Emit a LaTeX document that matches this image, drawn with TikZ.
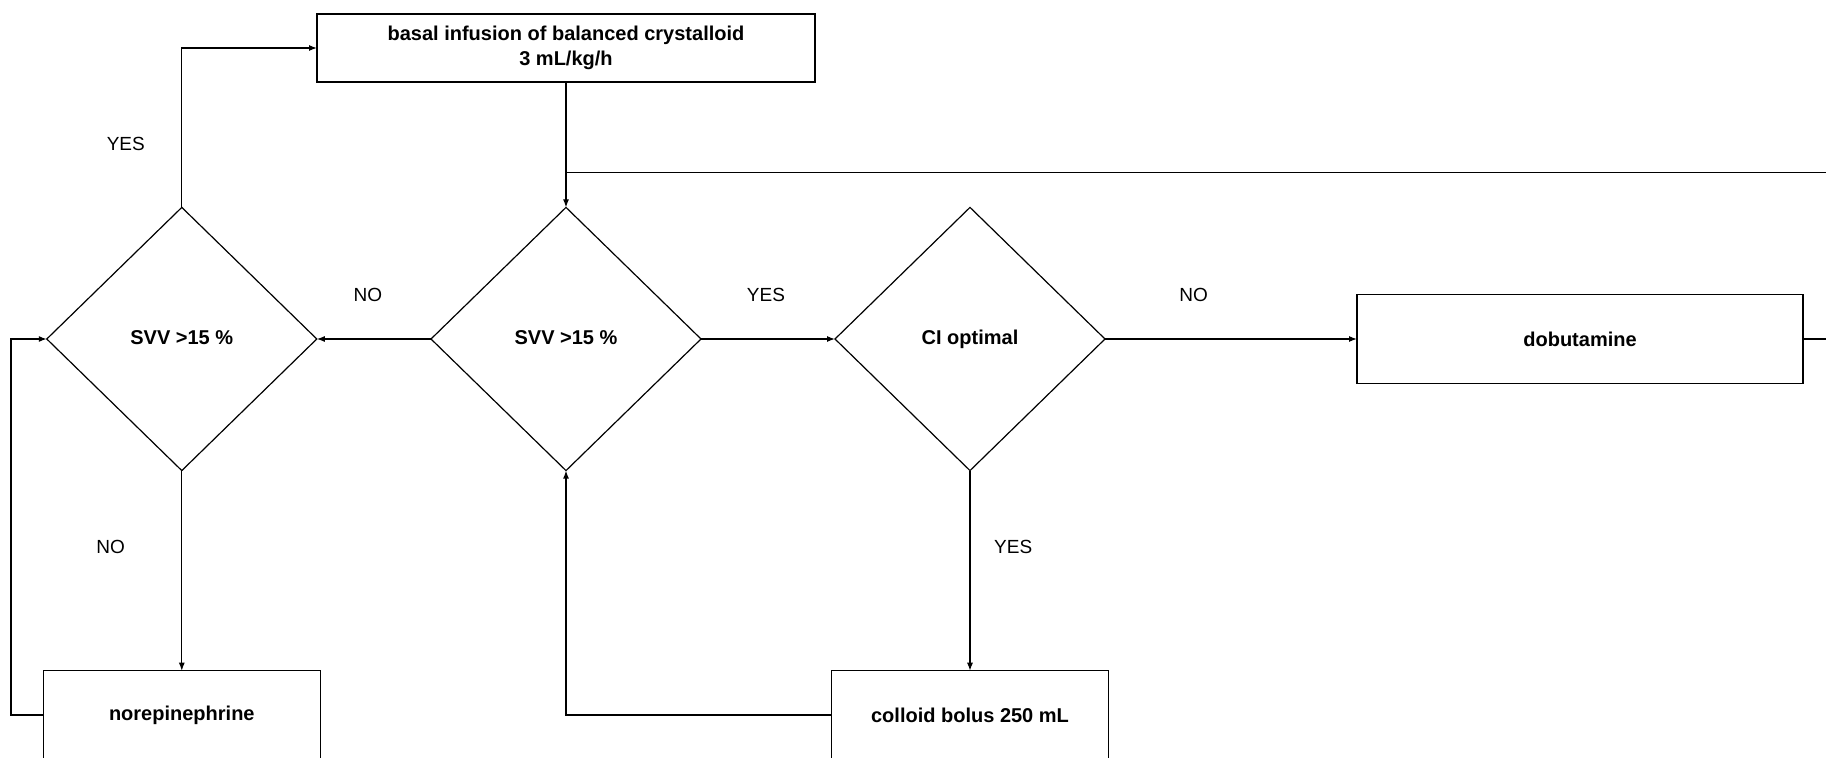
\documentclass[tikz,border=0pt]{standalone}
\usepackage{fontspec}
\setmainfont{Liberation Sans}
\usetikzlibrary{shapes.geometric,arrows.meta}
\tikzset{
    process/.style = {rectangle, minimum width=138.5pt, minimum height=44.25pt, text centered, draw=black, line width=0.6pt, outer sep=0pt, font=\fontsize{10pt}{12.8pt}\selectfont\bfseries},
    decision/.style = {diamond, minimum width=135pt, minimum height=131.6pt, text centered, text height=7.2pt, text depth=2.1pt, draw=black, line width=0.6pt, outer sep=0pt, inner sep=0pt, font=\fontsize{10pt}{12pt}\selectfont\bfseries},
    answer/.style = {font=\fontsize{9.5pt}{11pt}\selectfont, inner sep=0pt},
    arrow/.style = {line width=0.6pt, -{Latex[length=4pt,width=3pt]}},
    wire/.style = {line width=0.6pt}
}
\begin{document}
\begin{tikzpicture}
\useasboundingbox (0,0) rectangle (913pt,-379pt);
\node (svvmid) [decision] at (283pt,-169.5pt) {SVV >15 \%};
\node (svvleft) [decision, left of=svvmid, node distance=192.1pt] {SVV >15 \%};
\node (ciopt) [decision, right of=svvmid, node distance=202pt] {CI optimal};
\node (dobu) [process, right of=ciopt, node distance=305pt, minimum width=223pt] {dobutamine};
\node (basal) [process, above of=svvmid, node distance=145.5pt, minimum width=249pt, minimum height=34pt, align=center] {basal infusion of balanced crystalloid\\3 mL/kg/h};
\node (norepi) [process, below of=svvleft, node distance=188pt] {norepinephrine};
\node (colloid) [process, below of=ciopt, node distance=188pt] {colloid bolus 250 mL};

\coordinate (join) at ([yshift=17.5pt]svvmid.north);
\coordinate (loop) at ([xshift=40pt]dobu.east);

\draw [arrow] (basal) -- (svvmid.north);
\draw [wire] (dobu.east) -- (loop) |- (join);
\draw [arrow] (svvmid.west) -- (svvleft.east) node[answer, midway, xshift=-3pt, yshift=22.2pt] (no1) {NO};
\draw [arrow] (svvmid.east) -- (ciopt.west) node[answer, midway, xshift=-1pt, yshift=22.2pt] (yes2) {YES};
\draw [arrow] (ciopt.east) -- (dobu.west) node[answer, pos=0.352, yshift=22.2pt] (no3) {NO};
\draw [arrow] (svvleft.north) |- (basal.west) node[answer, pos=0.2, xshift=-28pt] (yes1) {YES};
\draw [arrow] (svvleft.south) -- (norepi.north) node[answer, pos=0.384, xshift=-35.6pt] (no2) {NO};
\draw [arrow] (ciopt.south) -- (colloid.north) node[answer, pos=0.384, xshift=21.6pt] (yes3) {YES};
\draw [arrow] (colloid.west) -| (svvmid.south);
\draw [arrow] (norepi.west) -- ++(-16.2pt,0) |- (svvleft.west);
\end{tikzpicture}
\end{document}
